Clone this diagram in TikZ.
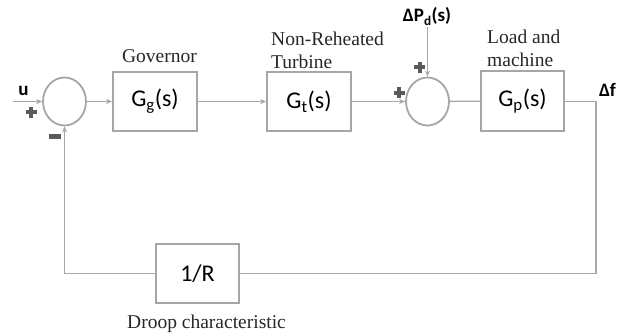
\documentclass[tikz,border=0pt]{standalone}
\usepackage{fontspec}
\setmainfont{Liberation Serif}
\newfontfamily\calfont{Carlito}
\usetikzlibrary{arrows.meta,shapes.geometric}
\definecolor{linec}{RGB}{168,168,168}
\definecolor{boxc}{RGB}{166,166,166}
\definecolor{signc}{RGB}{90,90,90}
\begin{document}
\begin{tikzpicture}[x=1bp,y=-1bp,
  line/.style={draw=linec, line width=1.3bp},
  arr/.style={line, -{Stealth[length=6bp,width=5bp,fill=linec]}},
  blk/.style={draw=boxc, line width=1.8bp, minimum width=84bp, minimum height=59bp, inner sep=0pt, font=\calfont\fontsize{24bp}{26bp}\selectfont},
  sumj/.style={ellipse, draw=boxc, line width=1.8bp, minimum width=43bp, minimum height=48bp, inner sep=0pt},
  lbl/.style={font=\fontsize{19.5bp}{23bp}\selectfont, inner sep=0pt, align=left, text=black!85},
  sig/.style={font=\calfont\bfseries\fontsize{19bp}{21bp}\selectfont, inner sep=0pt},
  plussign/.pic={\fill[signc] (-5.5,-2) rectangle (5.5,2); \fill[signc] (-2,-5.5) rectangle (2,5.5);}
]
\useasboundingbox (0,0) rectangle (617,334);

% blocks and summing junctions
\node[sumj] (c1) at (64.5,101.5) {};
\node[blk] (gg) at (155,101.5) {G\textsubscript{g}(s)};
\node[blk] (gt) at (309,101.5) {G\textsubscript{t}(s)};
\node[sumj] (c2) at (427.5,101.5) {};
\node[blk, minimum width=83bp, minimum height=60bp] (gp) at (522.5,101) {G\textsubscript{p}(s)};
\node[blk, minimum width=83bp] (r) at (197.5,273.5) {1/R};

% free ends
\coordinate (uin) at (13,101.5);
\coordinate (dpin) at (427.5,27);
\coordinate (fout) at (596,101.5);
\coordinate (fb1) at (596,273.5);
\coordinate (fb2) at (64.5,273.5);

% connectors
\draw[arr] (uin) -- (c1.west);
\draw[arr] (c1) -- (gg);
\draw[arr] (gg) -- (gt);
\draw[arr] (gt) -- (c2);
\draw[arr] (dpin) -- (c2);
\draw[line] (c2) -- (gp);
\draw[line] (gp.east |- fout) -- (fout) -- (fb1) -- (r);
\draw[arr] (r) -- (fb2) -- (c1);

% signal labels
\node[sig] (ulbl) at (23.5,91) {u};
\node[sig] (dflbl) at (607.5,90) {Δf};
\node[sig] (dplbl) at (427,16.5) {ΔP\textsubscript{d}(s)};

% block captions
\node[lbl] (gov) at (159.5,56) {Governor};
\node[lbl, anchor=west] (tur) at (271,50.5) {Non-Reheated\\Turbine};
\node[lbl, anchor=west] (load) at (487,48.5) {Load and\\machine};
\node[lbl, anchor=base] (droop) at (206.5,328) {Droop characteristic};

% signs
\pic at (31,112) {plussign};
\pic at (399,92.5) {plussign};
\pic at (419.5,67) {plussign};
\fill[signc] (49,133.5) rectangle (61,138.5);
\end{tikzpicture}
\end{document}
